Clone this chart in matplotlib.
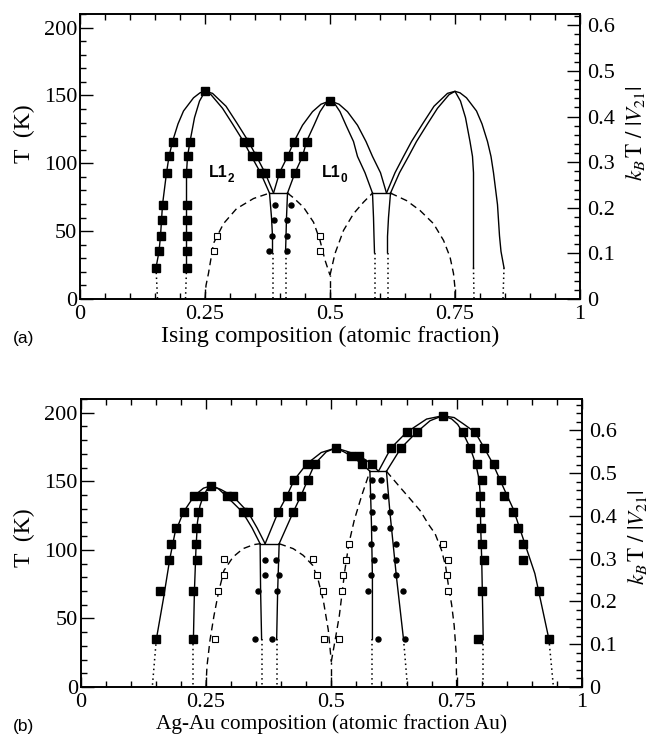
import matplotlib
matplotlib.use('Agg')
import matplotlib.pyplot as plt
from matplotlib.ticker import MultipleLocator, FixedLocator, FixedFormatter

plt.rcParams['font.family'] = ['Liberation Serif', 'DejaVu Serif']
plt.rcParams['mathtext.fontset'] = 'stix'

# ---------------------------------------------------------------
# (a) Ising model : Monte Carlo points
# ---------------------------------------------------------------
a_sq_x = [0.152, 0.158, 0.161, 0.163, 0.165, 0.173, 0.178, 0.185,
          0.213, 0.213, 0.213, 0.213, 0.213, 0.213, 0.215, 0.220,
          0.250,
          0.327, 0.337, 0.343, 0.353, 0.361, 0.370,
          0.399, 0.430, 0.415, 0.445, 0.428, 0.453,
          0.500]
a_sq_T = [23, 35, 46.5, 58, 69.5, 93, 105, 116,
          23, 35, 46.5, 58, 69.5, 93, 105, 116,
          153,
          116, 116, 105, 105, 93, 93,
          93, 93, 105, 105, 116, 116,
          146]
a_circ_x = [0.389, 0.387, 0.383, 0.377, 0.422, 0.413, 0.413, 0.413]
a_circ_T = [69.5, 58, 46.5, 35, 69.5, 58, 46.5, 35]
a_open_x = [0.273, 0.268, 0.479, 0.479]
a_open_T = [46.5, 35, 46.5, 35]

# (a) phase boundaries (solid)
a_l12_out_x = [0.152, 0.158, 0.161, 0.163, 0.165, 0.173, 0.178, 0.185, 0.196, 0.207,
               0.227, 0.240, 0.250, 0.265, 0.292, 0.314, 0.337, 0.353, 0.370, 0.387]
a_l12_out_T = [23, 35, 46.5, 58, 69.5, 93, 105, 116, 129, 138.5,
               148.2, 151.9, 153, 151.5, 142, 129.5, 116, 105, 93, 78]
a_l12_in_x = [0.213, 0.213, 0.213, 0.213, 0.215, 0.220, 0.229, 0.239, 0.250,
              0.262, 0.285, 0.305, 0.327, 0.343, 0.361, 0.379]
a_l12_in_T = [23, 46.5, 69.5, 93, 105, 116, 133.6, 145.8, 153,
              150.5, 140.5, 129, 116, 105, 93, 78]
a_l10_out_x = [0.387, 0.399, 0.415, 0.428, 0.445, 0.465, 0.482, 0.500,
               0.518, 0.535, 0.555, 0.572, 0.585, 0.601, 0.613]
a_l10_out_T = [78, 93, 105, 116, 128, 138, 143.5, 146,
               143.5, 138, 128, 116, 105, 93, 78]
a_l10_in_x = [0.415, 0.430, 0.445, 0.453, 0.468, 0.480, 0.490, 0.500,
              0.510, 0.520, 0.532, 0.547, 0.555, 0.570, 0.585]
a_l10_in_T = [78, 93, 105, 116, 128, 138, 143.5, 146,
              143.5, 138, 128, 116, 105, 93, 78]
a_d3_out_x = [0.613, 0.630, 0.647, 0.663, 0.686, 0.708, 0.735, 0.750, 0.760, 0.773,
              0.793, 0.804, 0.815, 0.822, 0.827, 0.835, 0.837, 0.839, 0.842, 0.848]
a_d3_out_T = [78, 93, 105, 116, 129.5, 142, 151.5, 153, 151.9, 148.2,
              138.5, 129, 116, 105, 93, 69.5, 58, 46.5, 35, 23]
a_d3_in_x = [0.621, 0.639, 0.657, 0.673, 0.695, 0.715, 0.738, 0.750,
             0.761, 0.771, 0.780, 0.785, 0.787, 0.787, 0.787, 0.787]
a_d3_in_T = [78, 93, 105, 116, 129, 140.5, 150.5, 153,
             145.8, 133.6, 116, 105, 93, 69.5, 46.5, 23]
a_v1_x, a_v1_T = [0.379, 0.383, 0.385, 0.385], [78, 60, 46, 34]
a_v2_x, a_v2_T = [0.415, 0.413, 0.412, 0.411], [78, 60, 46, 34]
a_v3_x, a_v3_T = [0.585, 0.587, 0.588, 0.589], [78, 60, 46, 34]
a_v4_x, a_v4_T = [0.621, 0.617, 0.615, 0.615], [78, 60, 46, 34]
a_tie1_x, a_tie1_T = [0.379, 0.415], [78, 78]
a_tie2_x, a_tie2_T = [0.585, 0.621], [78, 78]

# (a) low-T extrapolations (dotted): top x, top T, bottom x
a_dot_x0 = [0.152, 0.213, 0.385, 0.411, 0.589, 0.615, 0.787, 0.848]
a_dot_T0 = [23, 23, 34, 34, 34, 34, 23, 23]
a_dot_x1 = [0.155, 0.211, 0.385, 0.411, 0.589, 0.615, 0.788, 0.846]

# (a) ordering transitions (dashed)
a_dash1_x = [0.250, 0.252, 0.257, 0.267, 0.287, 0.313, 0.347, 0.379]
a_dash1_T = [0, 10, 19, 41, 55.5, 66.5, 74, 78]
a_dash2_x = [0.415, 0.427, 0.447, 0.467, 0.480, 0.490, 0.500]
a_dash2_T = [78, 74.5, 67.6, 56.6, 43.2, 28.6, 17.5]
a_dash3_x = [0.500, 0.510, 0.527, 0.547, 0.567, 0.585]
a_dash3_T = [17.5, 33.5, 50.5, 62.8, 71.3, 78]
a_dash4_x = [0.621, 0.653, 0.680, 0.707, 0.727, 0.740, 0.747, 0.750, 0.750]
a_dash4_T = [78, 72.5, 65.2, 55.5, 43.2, 31, 18.8, 8, 0]
a_dash5_x, a_dash5_T = [0.500, 0.500], [0, 17.5]

# ---------------------------------------------------------------
# (b) Ag-Au : Monte Carlo points
# ---------------------------------------------------------------
b_sq_x = [0.151, 0.158, 0.177, 0.180, 0.191, 0.206, 0.227,
          0.225, 0.225, 0.232, 0.231, 0.231, 0.235, 0.245,
          0.261,
          0.291, 0.304, 0.323, 0.334,
          0.394, 0.424, 0.411, 0.439, 0.426, 0.453, 0.451, 0.467,
          0.509,
          0.539, 0.555, 0.561, 0.581,
          0.619, 0.639, 0.650, 0.670,
          0.722,
          0.762, 0.777, 0.790, 0.800, 0.797, 0.797, 0.798, 0.801, 0.805, 0.800, 0.793,
          0.787, 0.805, 0.824, 0.838, 0.845, 0.863, 0.873, 0.882, 0.883, 0.915, 0.934]
b_sq_T = [34.7, 69.8, 92.9, 104.5, 116.1, 127.5, 139.1,
          34.7, 69.8, 92.9, 104.5, 116.1, 127.5, 139.1,
          146.7,
          139.1, 139.1, 127.5, 127.5,
          127.5, 127.5, 139.1, 139.1, 151, 151, 162.7, 162.7,
          174.3,
          168.7, 168.7, 162.7, 162.7,
          174.3, 174.3, 185.7, 185.7,
          197.8,
          185.7, 174.3, 162.7, 151, 139.1, 127.5, 116.1, 104.5, 92.9, 69.8, 34.9,
          185.7, 174.3, 162.7, 151, 139.1, 127.5, 116.1, 104.5, 92.9, 69.8, 34.9]
b_circ_x = [0.368, 0.390, 0.368, 0.396, 0.354, 0.391, 0.348, 0.381,
            0.581, 0.600, 0.581, 0.608, 0.582, 0.617, 0.586, 0.618, 0.579, 0.629,
            0.586, 0.629, 0.579, 0.629, 0.574, 0.642, 0.594, 0.646]
b_circ_T = [92.9, 92.9, 81.5, 81.5, 69.8, 69.8, 34.7, 34.7,
            151, 151, 139.1, 139.1, 127.5, 127.5, 116.1, 116.1, 104.5, 104.5,
            92.9, 92.9, 81.5, 81.5, 69.8, 69.8, 34.9, 34.9]
b_open_x = [0.285, 0.285, 0.275, 0.269,
            0.463, 0.471, 0.484, 0.485,
            0.516, 0.521, 0.523, 0.529, 0.536,
            0.723, 0.733, 0.731, 0.733]
b_open_T = [93.1, 81.5, 69.8, 34.7,
            93.1, 81.5, 69.8, 34.7,
            34.7, 69.8, 81.5, 92.9, 104.5,
            104.5, 92.9, 81.5, 69.8]

# (b) phase boundaries (solid)
b_l12_out_x = [0.151, 0.165, 0.178, 0.188, 0.205, 0.227, 0.245, 0.261,
               0.280, 0.304, 0.334, 0.352, 0.368]
b_l12_out_T = [34.7, 64, 93.6, 112, 127.5, 139.6, 145, 146.8,
               144, 139.1, 127.5, 116, 104.5]
b_l12_in_x = [0.225, 0.227, 0.230, 0.233, 0.238, 0.245, 0.253, 0.261,
              0.275, 0.291, 0.323, 0.342, 0.358]
b_l12_in_T = [34.7, 70, 100, 120, 132, 139.6, 144.5, 146.8,
              144.5, 139.1, 127.5, 116, 104.5]
b_l10_out_x = [0.368, 0.394, 0.411, 0.426, 0.451, 0.480, 0.509, 0.530, 0.555, 0.581, 0.594]
b_l10_out_T = [104.5, 127.5, 139.1, 151, 162.7, 171, 174.3, 172, 168.7, 162.7, 157.3]
b_l10_in_x = [0.396, 0.424, 0.439, 0.453, 0.467, 0.490, 0.509, 0.525, 0.539, 0.561, 0.577]
b_l10_in_T = [104.5, 127.5, 139.1, 151, 162.7, 171.5, 174.3, 171.5, 168.7, 162.7, 157.3]
b_big_out_x = [0.594, 0.619, 0.650, 0.690, 0.722, 0.745, 0.763, 0.787, 0.805,
               0.822, 0.843, 0.863, 0.886, 0.906, 0.934]
b_big_out_T = [157.3, 174.3, 185.7, 195.4, 197.8, 196.5, 192, 185.7, 174.3,
               163, 145.7, 129.7, 104.5, 82.7, 34.9]
b_big_in_x = [0.610, 0.639, 0.670, 0.697, 0.722, 0.740, 0.752, 0.762, 0.777,
              0.788, 0.795, 0.797, 0.798, 0.800, 0.803]
b_big_in_T = [157.3, 174.3, 185.7, 194.2, 197.8, 195.5, 191.5, 185.7, 174.3,
              162.7, 151, 139.6, 116, 92.4, 34.9]
b_v1_x, b_v1_T = [0.358, 0.359, 0.361], [104.5, 70, 34.7]
b_v2_x, b_v2_T = [0.396, 0.393, 0.391], [104.5, 70, 34.7]
b_v3_x, b_v3_T = [0.577, 0.580, 0.582, 0.582], [157.3, 120, 80, 34.9]
b_v4_x, b_v4_T = [0.610, 0.617, 0.630, 0.644], [157.3, 127, 80, 34.9]
b_tie1_x, b_tie1_T = [0.358, 0.396], [104.5, 104.5]
b_tie2_x, b_tie2_T = [0.577, 0.610], [157.3, 157.3]

# (b) dotted extrapolations
b_dot_x0 = [0.151, 0.225, 0.361, 0.391, 0.582, 0.644, 0.803, 0.934]
b_dot_T0 = [34.7, 34.7, 34.7, 34.7, 34.9, 34.9, 34.9, 34.9]
b_dot_x1 = [0.143, 0.225, 0.361, 0.391, 0.582, 0.652, 0.803, 0.943]

# (b) dashed
b_dash1_x = [0.250, 0.252, 0.258, 0.266, 0.275, 0.286, 0.304, 0.324, 0.345, 0.358]
b_dash1_T = [0, 15, 34, 52, 69, 85, 94.8, 100.9, 103.8, 104.5]
b_dash2_x = [0.396, 0.424, 0.444, 0.463, 0.474, 0.484, 0.494, 0.500]
b_dash2_T = [104.5, 100.9, 96, 88.7, 77.8, 63.3, 41.5, 18.5]
b_dash3_x = [0.500, 0.508, 0.516, 0.522, 0.527, 0.535, 0.546, 0.561, 0.577]
b_dash3_T = [18.5, 35, 52, 70, 85, 104.5, 122, 140, 157.3]
b_dash4_x = [0.610, 0.637, 0.660, 0.677, 0.695, 0.707, 0.720, 0.728, 0.733,
             0.740, 0.745, 0.749, 0.750]
b_dash4_T = [157.3, 145.7, 136, 128.7, 118, 111.8, 99.6, 88, 75.4,
             60, 45, 25, 0]
b_dash5_x, b_dash5_T = [0.500, 0.500], [0, 18.5]

# axis text
x_ticks = [0, 0.25, 0.5, 0.75, 1]
x_ticklabels = ['0', '0.25', '0.5', '0.75', '1']
r_ticks = [0, 0.1, 0.2, 0.3, 0.4, 0.5, 0.6]
r_ticklabels = ['0', '0.1', '0.2', '0.3', '0.4', '0.5', '0.6']
T_max = 210
a_T_per_unit = 336   # K per unit of kT/|V21|, panel (a)
b_T_per_unit = 312   # panel (b)

dash_style = (0, (5, 3.2))
dot_style = (0, (1, 2.2))
lw = 1.0


def draw_panel(ax, solid, dashed, dots, sq, circ, opn, T_per_unit,
               xlabel, xlabel_size, label_y):
    for x, T in solid:
        ax.plot(x, T, color='black', lw=lw, zorder=2)
    for x, T in dashed:
        ax.plot(x, T, color='black', lw=lw, ls=dash_style, zorder=2)
    for x0, T0, x1 in zip(*dots):
        ax.plot([x0, x1], [T0, 0], color='black', lw=1.1, ls=dot_style, zorder=2)
    ax.plot(sq[0], sq[1], 's', ms=5.2, color='black', ls='none', zorder=3)
    ax.plot(circ[0], circ[1], 'o', ms=3.6, color='black', ls='none', zorder=3)
    ax.plot(opn[0], opn[1], 's', ms=4.8, mfc='white', mec='black', mew=0.8,
            ls='none', zorder=3)

    ax.set_xlim(0, 1)
    ax.set_ylim(0, T_max)
    ax.xaxis.set_major_locator(FixedLocator(x_ticks))
    ax.xaxis.set_major_formatter(FixedFormatter(x_ticklabels))
    ax.xaxis.set_minor_locator(MultipleLocator(0.05))
    ax.yaxis.set_major_locator(MultipleLocator(50))
    ax.yaxis.set_minor_locator(MultipleLocator(10))
    ax.tick_params(axis='x', which='both', direction='in', top=True, labelsize=16, pad=4)
    ax.tick_params(axis='x', which='major', length=7, width=1)
    ax.tick_params(axis='x', which='minor', length=4, width=1)
    ax.tick_params(axis='y', which='both', direction='in', right=False, labelsize=16, pad=2)
    ax.tick_params(axis='y', which='major', length=9.5, width=1)
    ax.tick_params(axis='y', which='minor', length=4.5, width=1)
    for s in ax.spines.values():
        s.set_linewidth(1.2)
    ax.set_xlabel(xlabel, fontsize=xlabel_size, labelpad=2)
    ax.set_ylabel('T  (K)', fontsize=17, labelpad=6)
    ax.yaxis.set_label_coords(-0.09, label_y)

    # second temperature scale
    ax2 = ax.twinx()
    ax2.set_ylim(0, T_max / T_per_unit)
    ax2.yaxis.set_major_locator(FixedLocator(r_ticks))
    ax2.yaxis.set_major_formatter(FixedFormatter(r_ticklabels))
    ax2.yaxis.set_minor_locator(MultipleLocator(0.02))
    ax2.tick_params(axis='y', which='both', direction='in', labelsize=16, pad=5)
    ax2.tick_params(axis='y', which='major', length=9.5, width=1)
    ax2.tick_params(axis='y', which='minor', length=4.5, width=1)
    ax2.set_ylabel(r'$k_B\,\mathrm{T}\ /\ |V_{21}|$', fontsize=16.5)
    ax2.yaxis.set_label_coords(1.088, label_y)
    for s in ax2.spines.values():
        s.set_linewidth(1.2)
    return ax2


fig = plt.figure(figsize=(6.5, 7.38), dpi=100)
ax_a = fig.add_axes([0.1231, 0.5949, 0.7692, 0.3862])
ax_b = fig.add_axes([0.1240, 0.0691, 0.7714, 0.3902])

draw_panel(ax_a,
           [(a_l12_out_x, a_l12_out_T), (a_l12_in_x, a_l12_in_T),
            (a_l10_out_x, a_l10_out_T), (a_l10_in_x, a_l10_in_T),
            (a_d3_out_x, a_d3_out_T), (a_d3_in_x, a_d3_in_T),
            (a_v1_x, a_v1_T), (a_v2_x, a_v2_T), (a_v3_x, a_v3_T), (a_v4_x, a_v4_T),
            (a_tie1_x, a_tie1_T), (a_tie2_x, a_tie2_T)],
           [(a_dash1_x, a_dash1_T), (a_dash2_x, a_dash2_T), (a_dash3_x, a_dash3_T),
            (a_dash4_x, a_dash4_T), (a_dash5_x, a_dash5_T)],
           (a_dot_x0, a_dot_T0, a_dot_x1),
           (a_sq_x, a_sq_T), (a_circ_x, a_circ_T), (a_open_x, a_open_T),
           a_T_per_unit, 'Ising composition (atomic fraction)', 17.2, 0.58)

draw_panel(ax_b,
           [(b_l12_out_x, b_l12_out_T), (b_l12_in_x, b_l12_in_T),
            (b_l10_out_x, b_l10_out_T), (b_l10_in_x, b_l10_in_T),
            (b_big_out_x, b_big_out_T), (b_big_in_x, b_big_in_T),
            (b_v1_x, b_v1_T), (b_v2_x, b_v2_T), (b_v3_x, b_v3_T), (b_v4_x, b_v4_T),
            (b_tie1_x, b_tie1_T), (b_tie2_x, b_tie2_T)],
           [(b_dash1_x, b_dash1_T), (b_dash2_x, b_dash2_T), (b_dash3_x, b_dash3_T),
            (b_dash4_x, b_dash4_T), (b_dash5_x, b_dash5_T)],
           (b_dot_x0, b_dot_T0, b_dot_x1),
           (b_sq_x, b_sq_T), (b_circ_x, b_circ_T), (b_open_x, b_open_T),
           b_T_per_unit, 'Ag-Au composition (atomic fraction Au)', 15.4, 0.52)

# phase labels in (a)
for px, name, sub in [(0.257, 'L1', '2'), (0.483, 'L1', '0')]:
    ax_a.text(px, 89.5, name, fontsize=11.5, fontweight='bold',
              family='Liberation Sans', ha='left', va='baseline')
    ax_a.annotate(sub, xy=(px, 89.5), xytext=(13.8, -3.5), textcoords='offset points',
                  fontsize=8.5, fontweight='bold', family='Liberation Sans',
                  ha='left', va='baseline')

# panel tags
fig.text(0.02, 0.531, '(a)', fontsize=12.5, family='Liberation Sans', va='bottom')
fig.text(0.02, 0.005, '(b)', fontsize=12.5, family='Liberation Sans', va='bottom')

plt.savefig('out.png', dpi=100)
